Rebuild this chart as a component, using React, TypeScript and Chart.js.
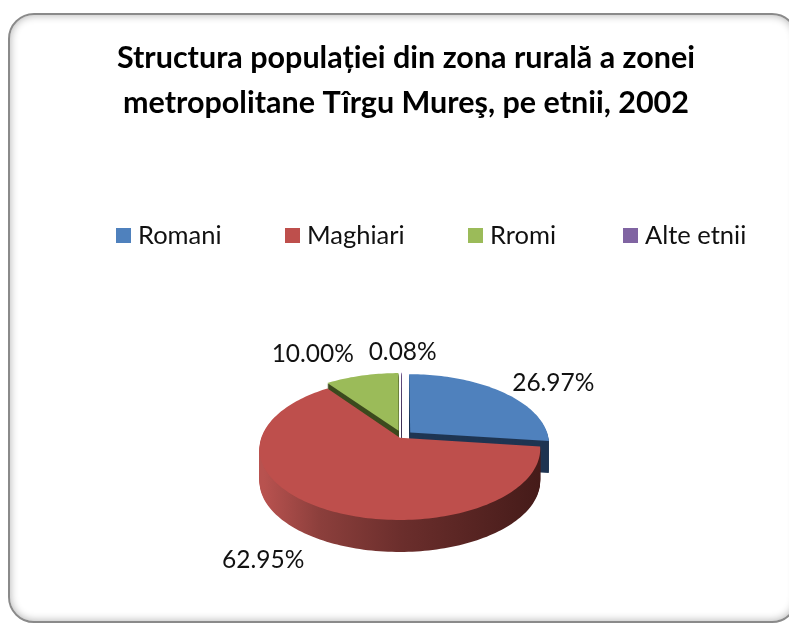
import React, { useEffect, useRef } from "react";
import { Chart, registerables } from "chart.js";

Chart.register(...registerables);

const titleLines = ["Structura populației din zona rurală a zonei", "metropolitane Tîrgu Mureş, pe etnii, 2002"];
const categories = ["Romani", "Maghiari", "Rromi", "Alte etnii"];
const shares = [26.97, 62.95, 10.0, 0.08];
const sliceColors = ["#4F81BD", "#BE4F4C", "#9BBB59", "#8064A2"];
const wallColors = ["#1F3552", "#7a3331", "#3C4A1E", "#3d2f52"];
const sliceOffsets = [8, 3, 8, 8];
const legendBoxX = [116, 285, 468, 623];
const labelShift = [[51, -9], [-55, 53], [-49, -22], [1, -21]];
const paintOrder = [0, 2, 3, 1];

const FONT = "Lato, sans-serif";
const PIE = { cx: 402, cy: 436, rx: 138, ry: 68.5, k: 0.159, depth: 32 };

const project = (u: number, v: number) => {
  const d = 1 + PIE.k * v;
  return { x: PIE.cx + (PIE.rx * u) / d, y: PIE.cy - (PIE.ry * v) / d };
};

const slicePoints = (arc: any) => {
  const off = (arc.options.offset || 0) / arc.outerRadius;
  const mid = (arc.startAngle + arc.endAngle) / 2;
  const ou = Math.cos(mid) * off;
  const ov = -Math.sin(mid) * off;
  const pts = [project(ou, ov)];
  const n = Math.max(2, Math.ceil((arc.endAngle - arc.startAngle) * 40));
  for (let i = 0; i <= n; i++) {
    const t = arc.startAngle + ((arc.endAngle - arc.startAngle) * i) / n;
    pts.push(project(ou + Math.cos(t), ov - Math.sin(t)));
  }
  return pts;
};

const fillPts = (ctx: CanvasRenderingContext2D, pts: { x: number; y: number }[], dy: number, style: any) => {
  ctx.beginPath();
  pts.forEach((p, i) => (i ? ctx.lineTo(p.x, p.y + dy) : ctx.moveTo(p.x, p.y + dy)));
  ctx.closePath();
  ctx.fillStyle = style;
  ctx.fill();
};

const piePlugin = {
  id: "pie3d",
  beforeDatasetsDraw(chart: any) {
    const ctx: CanvasRenderingContext2D = chart.ctx;
    const arcs = chart.getDatasetMeta(0).data;
    const grad = ctx.createLinearGradient(PIE.cx - PIE.rx, 0, PIE.cx + PIE.rx, 0);
    grad.addColorStop(0, "#B8524F");
    grad.addColorStop(0.2, "#8C3F3C");
    grad.addColorStop(0.5, "#6B2E2C");
    grad.addColorStop(1, "#451B19");
    ctx.save();
    paintOrder.forEach((i) => {
      const pts = slicePoints(arcs[i]);
      const wall = i === 1 ? grad : wallColors[i];
      for (let d = PIE.depth; d >= 1; d--) fillPts(ctx, pts, d, wall);
      fillPts(ctx, pts, 0, sliceColors[i]);
    });
    ctx.restore();
    return false;
  },
  afterDraw(chart: any) {
    const ctx: CanvasRenderingContext2D = chart.ctx;
    const arcs = chart.getDatasetMeta(0).data;
    ctx.save();
    ctx.fillStyle = "#111";
    ctx.textBaseline = "middle";
    ctx.font = `25.5px ${FONT}`;
    categories.forEach((name, i) => {
      ctx.fillStyle = sliceColors[i];
      ctx.fillRect(legendBoxX[i], 228, 15, 15);
      ctx.fillStyle = "#111";
      ctx.textAlign = "left";
      ctx.fillText(name, legendBoxX[i] + 22, 236);
    });
    ctx.font = `24.5px ${FONT}`;
    ctx.textAlign = "center";
    arcs.forEach((arc: any, i: number) => {
      const off = (arc.options.offset || 0) / arc.outerRadius;
      const mid = (arc.startAngle + arc.endAngle) / 2;
      const p = project(Math.cos(mid) * (1 + off), -Math.sin(mid) * (1 + off));
      ctx.fillText(`${shares[i].toFixed(2)}%`, p.x + labelShift[i][0], p.y + labelShift[i][1]);
    });
    ctx.restore();
  },
};

export default function App() {
  const ref = useRef<HTMLCanvasElement>(null);
  useEffect(() => {
    const chart = new Chart(ref.current!, {
      type: "pie",
      data: {
        labels: categories,
        datasets: [{ data: shares, backgroundColor: sliceColors, offset: sliceOffsets, borderWidth: 0, radius: 100 } as any],
      },
      options: {
        responsive: false,
        animation: false,
        layout: { padding: { left: 23 } },
        plugins: {
          legend: { display: false },
          tooltip: { enabled: false },
          title: {
            display: true,
            text: titleLines,
            color: "#000",
            font: { family: FONT, size: 30.5, weight: "bold", lineHeight: 1.475 },
            padding: { top: 36, bottom: 20 },
          },
        },
      },
      plugins: [piePlugin],
    } as any);
    return () => chart.destroy();
  }, []);
  return (
    <div style={{ position: "absolute", left: 0, top: 0, width: 789, height: 627, overflow: "hidden", background: "#fff" }}>
      <div
        style={{
          position: "absolute",
          left: 8,
          top: 13,
          width: 790,
          height: 610,
          boxSizing: "border-box",
          border: "2px solid #8a8a8a",
          borderRadius: 26,
          boxShadow: "inset 0 0 8px rgba(0,0,0,0.32)",
        }}
      />
      <canvas ref={ref} width={789} height={627} style={{ position: "absolute", left: 0, top: 0, display: "block", filter: "blur(0.4px)" }} />
    </div>
  );
}
